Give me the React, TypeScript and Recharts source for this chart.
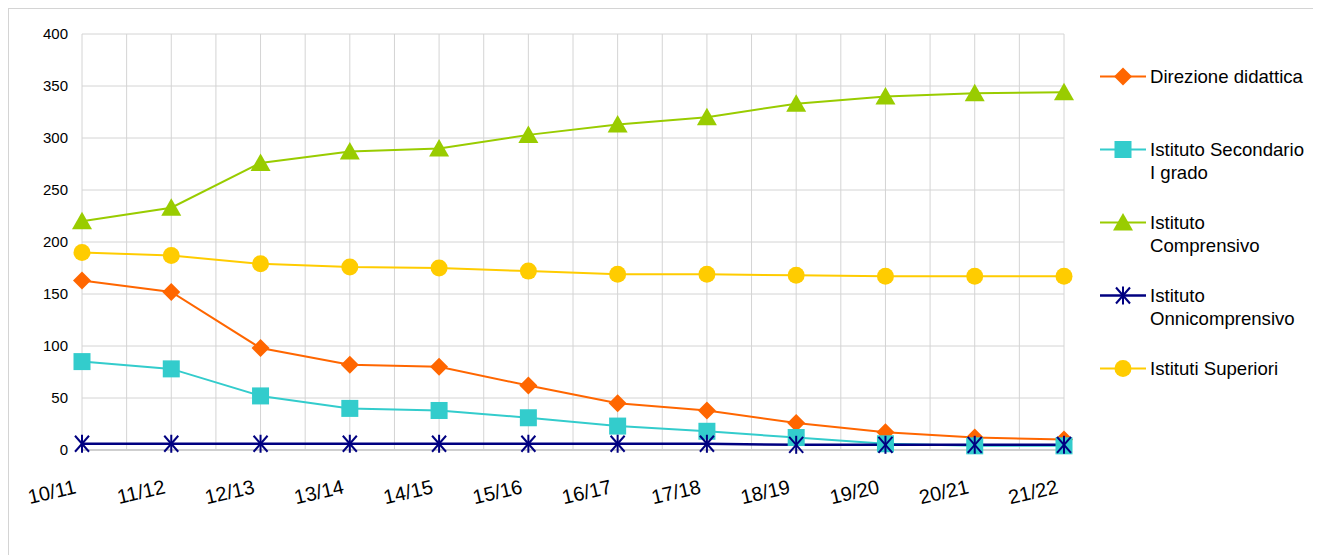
import React from "react"
import { LineChart, Line, XAxis, YAxis, CartesianGrid } from "recharts"

// ─── Data ─────────────────────────────────────────────────────────────────────
const years = ["10/11", "11/12", "12/13", "13/14", "14/15", "15/16", "16/17", "17/18", "18/19", "19/20", "20/21", "21/22"]
const direzioneDidattica = [163, 152, 98, 82, 80, 62, 45, 38, 26, 17, 12, 10]
const secondarioIGrado = [85, 78, 52, 40, 38, 31, 23, 18, 12, 6, 4, 4]
const comprensivo = [220, 233, 276, 287, 290, 303, 313, 320, 333, 340, 343, 344]
const onnicomprensivo = [6, 6, 6, 6, 6, 6, 6, 6, 5, 5, 5, 5]
const superiori = [190, 187, 179, 176, 175, 172, 169, 169, 168, 167, 167, 167]
const yTicks = [0, 50, 100, 150, 200, 250, 300, 350, 400]

const seriesNames = ["Direzione didattica", "Istituto Secondario\nI grado", "Istituto\nComprensivo", "Istituto\nOnnicomprensivo", "Istituti Superiori"]

const data = years.map((y, i) => ({
  year: y,
  dd: direzioneDidattica[i],
  sec: secondarioIGrado[i],
  comp: comprensivo[i],
  onni: onnicomprensivo[i],
  sup: superiori[i],
}))

// ─── Markers ──────────────────────────────────────────────────────────────────
type Shape = "diamond" | "square" | "triangle" | "star" | "circle"

function Marker({ shape, cx, cy, color }: { shape: Shape; cx: number; cy: number; color: string }) {
  if (shape === "diamond")
    return <polygon points={`${cx},${cy - 9} ${cx + 9},${cy} ${cx},${cy + 9} ${cx - 9},${cy}`} fill={color} />
  if (shape === "square")
    return <rect x={cx - 8.5} y={cy - 8.5} width={17} height={17} fill={color} />
  if (shape === "triangle")
    return <polygon points={`${cx},${cy - 9.5} ${cx + 10},${cy + 8} ${cx - 10},${cy + 8}`} fill={color} />
  if (shape === "circle") return <circle cx={cx} cy={cy} r={8.5} fill={color} />
  return (
    <g stroke={color} strokeWidth={2}>
      <line x1={cx} y1={cy - 9} x2={cx} y2={cy + 9} />
      <line x1={cx - 7} y1={cy - 8} x2={cx + 7} y2={cy + 8} />
      <line x1={cx - 7} y1={cy + 8} x2={cx + 7} y2={cy - 8} />
    </g>
  )
}

const series: { key: string; color: string; shape: Shape; width: number }[] = [
  { key: "dd", color: "#FF6600", shape: "diamond", width: 2 },
  { key: "sec", color: "#33CCCC", shape: "square", width: 2 },
  { key: "comp", color: "#99CC00", shape: "triangle", width: 2 },
  { key: "onni", color: "#000080", shape: "star", width: 2.5 },
  { key: "sup", color: "#FFCC00", shape: "circle", width: 2 },
]

const dotFor = (shape: Shape, color: string) => (p: any) =>
  <Marker key={`${shape}-${p.index}`} shape={shape} cx={p.cx} cy={p.cy} color={color} />

// ─── X tick ───────────────────────────────────────────────────────────────────
function YearTick({ x, y, payload }: any) {
  return (
    <g transform={`translate(${x - 5},${y + 43}) rotate(-13)`}>
      <text textAnchor="end" fontSize={20} fontFamily="Liberation Sans, Arial, sans-serif" fill="#000">
        {payload.value}
      </text>
    </g>
  )
}

export default function App() {
  return (
    <div
      style={{
        position: "relative",
        width: 1313,
        height: 547,
        borderTop: "1px solid #d4d4d4",
        borderLeft: "1px solid #d4d4d4",
        boxSizing: "border-box",
        overflow: "hidden",
        fontFamily: "Liberation Sans, Arial, sans-serif",
      }}
    >
      <LineChart width={1312} height={546} data={data} margin={{ top: 25, right: 257, left: 13, bottom: 45 }}>
        <CartesianGrid
          stroke="#d4d4d4"
          strokeWidth={1}
          verticalCoordinatesGenerator={({ offset }: any) =>
            Array.from({ length: 23 }, (_, i) => offset.left + (offset.width * i) / 22)
          }
        />
        <XAxis
          dataKey="year"
          tick={<YearTick />}
          tickLine={false}
          tickSize={0}
          tickMargin={0}
          height={60}
          axisLine={{ stroke: "#cfcfcf", strokeWidth: 2 }}
          interval={0}
        />
        <YAxis
          domain={[0, 400]}
          ticks={yTicks}
          width={60}
          tickLine={false}
          tickSize={0}
          tickMargin={14}
          axisLine={false}
          tick={{ fontSize: 15, fill: "#000", fontFamily: "Liberation Sans, Arial, sans-serif" }}
        />
        {series.map((s) => (
          <Line
            key={s.key}
            dataKey={s.key}
            stroke={s.color}
            strokeWidth={s.width}
            dot={dotFor(s.shape, s.color)}
            activeDot={false}
            isAnimationActive={false}
          />
        ))}
      </LineChart>
      {series.map((s, i) => (
        <div
          key={s.key}
          style={{ position: "absolute", left: 1091, top: 56 + 73 * i, display: "flex", alignItems: "flex-start" }}
        >
          <svg width={48} height={23}>
            <line x1={0} y1={11.5} x2={46} y2={11.5} stroke={s.color} strokeWidth={s.width} />
            <Marker shape={s.shape} cx={23} cy={11.5} color={s.color} />
          </svg>
          <div style={{ marginLeft: 2, fontSize: 18.6, lineHeight: "23px", color: "#000", whiteSpace: "pre-line" }}>
            {seriesNames[i]}
          </div>
        </div>
      ))}
    </div>
  )
}
